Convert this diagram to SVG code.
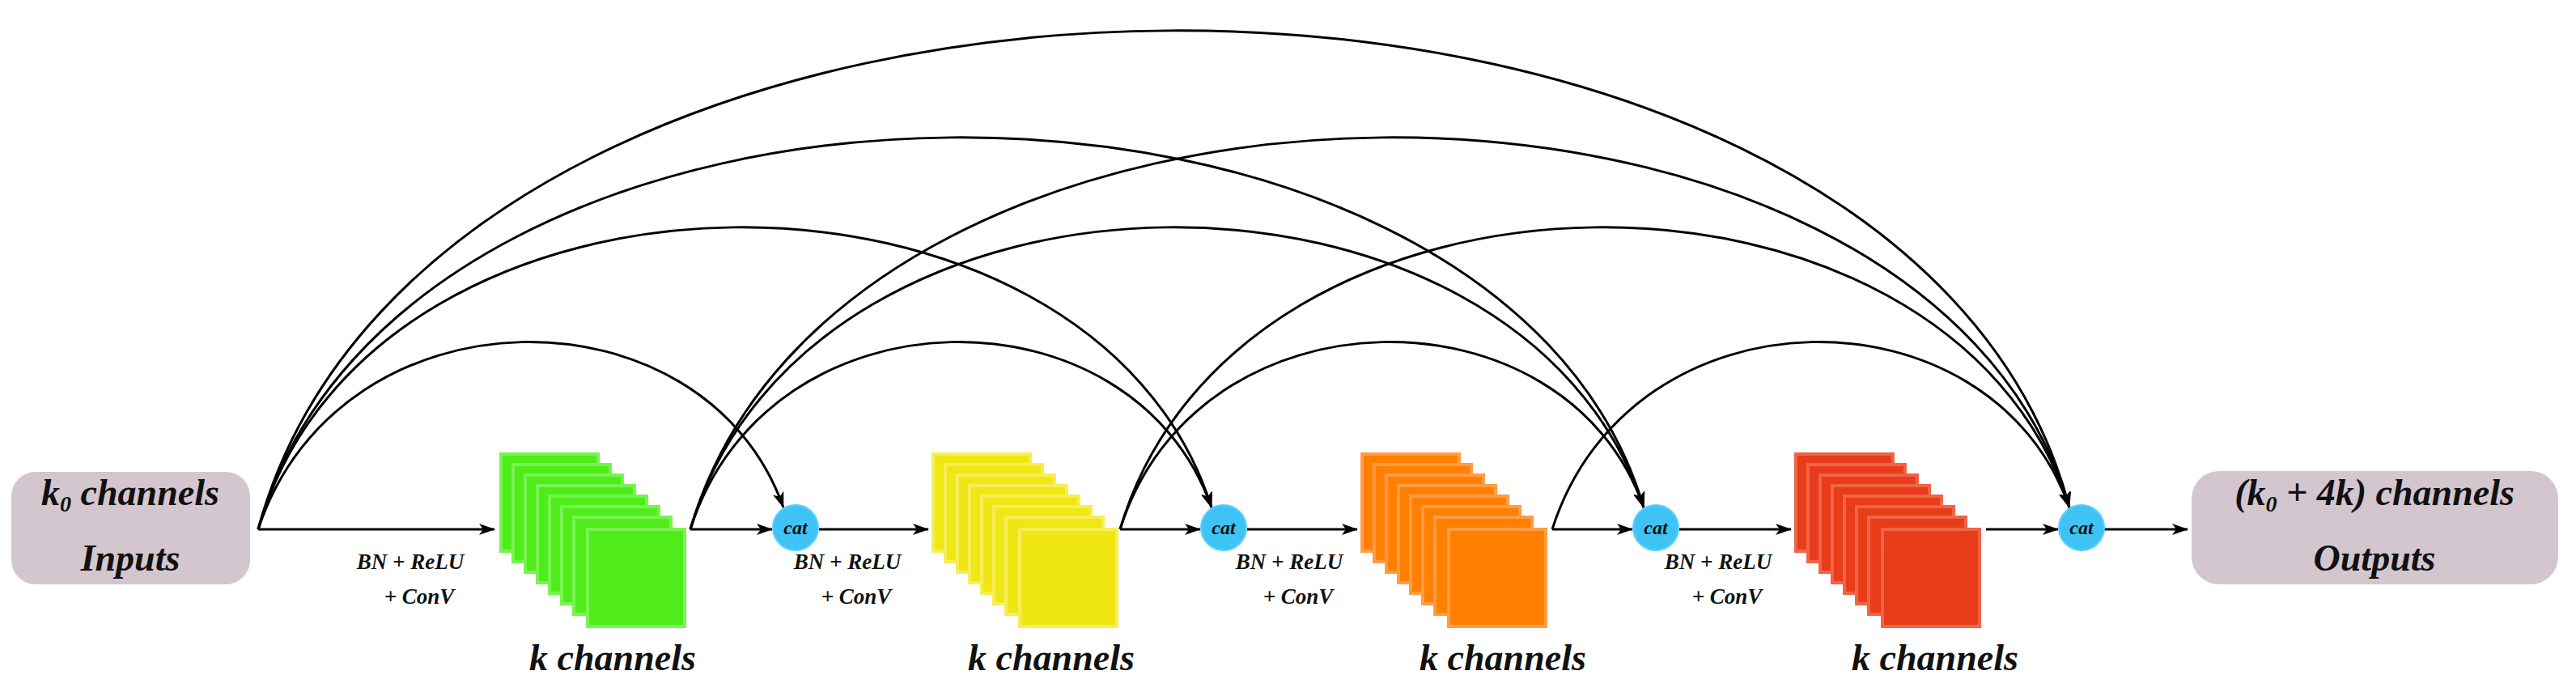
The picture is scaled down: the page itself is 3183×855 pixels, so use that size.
<svg xmlns="http://www.w3.org/2000/svg" width="3183" height="855" viewBox="0 0 3183 855">
<style>
text{font-family:"Liberation Serif","DejaVu Serif",serif;font-style:italic;font-weight:bold;fill:#111;stroke:none;text-anchor:middle}
.box{fill:#d3c6cf}
.big{font-size:46px}
.op{font-size:27px}
.cat{font-size:24px}
.e{fill:none;stroke:#000;stroke-width:3;marker-end:url(#ah)}
.c{fill:#3fc3f5;stroke:#5ad0ff;stroke-width:2}
.g{fill:#4fec1a;stroke:#78f450;stroke-width:4}
.y{fill:#f0e614;stroke:#f6ee55;stroke-width:4}
.o{fill:#ff7f00;stroke:#ff9c45;stroke-width:4}
.r{fill:#e83c1a;stroke:#f06448;stroke-width:4}
</style>
<defs>
<marker id="ah" viewBox="0 0 20 14" refX="19" refY="7" markerWidth="20" markerHeight="14" markerUnits="userSpaceOnUse" orient="auto">
<path d="M0,0 L20,7 L0,14 L5,7 Z" fill="#000" stroke="none"/>
</marker>
<g id="stk">
<rect x="0" y="0" width="120" height="120"/>
<rect x="15" y="13" width="120" height="120"/>
<rect x="30" y="26" width="120" height="120"/>
<rect x="45" y="39" width="120" height="120"/>
<rect x="60" y="52" width="120" height="120"/>
<rect x="75" y="65" width="120" height="120"/>
<rect x="90" y="78" width="120" height="120"/>
<rect x="107" y="93" width="120" height="120"/>
</g>
</defs>
<g id="inputs"><rect class="box" x="14" y="583" width="295" height="139" rx="30"/>
<text class="big" x="161" y="624">k<tspan font-size="28" dy="8">0</tspan><tspan dy="-8"> channels</tspan></text>
<text class="big" x="161" y="705">Inputs</text></g>
<g id="outputs"><rect class="box" x="2708" y="582" width="453" height="140" rx="34"/>
<text class="big" x="2934" y="624">(k<tspan font-size="28" dy="8">0</tspan><tspan dy="-8"> + 4k) channels</tspan></text>
<text class="big" x="2934" y="705">Outputs</text></g>
<g id="stack1"><use class="g" href="#stk" x="619" y="561"/><text class="big" x="757" y="828">k channels</text></g>
<g id="stack2"><use class="y" href="#stk" x="1153" y="561"/><text class="big" x="1299" y="828">k channels</text></g>
<g id="stack3"><use class="o" href="#stk" x="1683" y="561"/><text class="big" x="1857" y="828">k channels</text></g>
<g id="stack4"><use class="r" href="#stk" x="2219" y="561"/><text class="big" x="2391" y="828">k channels</text></g>
<g id="labels">
<text class="op" x="507" y="703">BN + ReLU</text><text class="op" x="518" y="746">+ ConV</text>
<text class="op" x="1047" y="703">BN + ReLU</text><text class="op" x="1058" y="746">+ ConV</text>
<text class="op" x="1593" y="703">BN + ReLU</text><text class="op" x="1604" y="746">+ ConV</text>
<text class="op" x="2123" y="703">BN + ReLU</text><text class="op" x="2134" y="746">+ ConV</text>
</g>
<g id="connectors">
<path class="e" d="M319,654 H611"/>
<path class="e" d="M853,654 H954"/>
<path class="e" d="M1384,654 H1483"/>
<path class="e" d="M1918,654 H2017"/>
<path class="e" d="M2454,654 H2543"/>
<path class="e" d="M2600,654 H2703"/>
<path class="e" d="M1012,654 H1147"/>
<path class="e" d="M1541,654 H1677"/>
<path class="e" d="M2075,654 H2213"/>
<path class="e" d="M319,654 C420,350 870,350 968,627"/>
<path class="e" d="M319,654 C460,161 1350,161 1497,627"/>
<path class="e" d="M319,654 C500,13 1850,13 2031,627"/>
<path class="e" d="M319,654 C540,-163 2350,-163 2557,627"/>
<path class="e" d="M853,654 C950,350 1400,350 1497,627"/>
<path class="e" d="M853,654 C1000,161 1880,161 2031,627"/>
<path class="e" d="M853,654 C1040,13 2380,13 2557,627"/>
<path class="e" d="M1384,654 C1480,350 1935,350 2031,627"/>
<path class="e" d="M1384,654 C1530,161 2410,161 2557,627"/>
<path class="e" d="M1918,654 C2015,350 2460,350 2557,627"/>
</g>
<g id="cat1"><ellipse class="c" cx="983" cy="652" rx="28" ry="28"/><text class="cat" x="983" y="660">cat</text></g>
<g id="cat2"><ellipse class="c" cx="1512" cy="652" rx="28" ry="28"/><text class="cat" x="1512" y="660">cat</text></g>
<g id="cat3"><ellipse class="c" cx="2046" cy="652" rx="28" ry="28"/><text class="cat" x="2046" y="660">cat</text></g>
<g id="cat4"><ellipse class="c" cx="2572" cy="652" rx="28" ry="28"/><text class="cat" x="2572" y="660">cat</text></g>
</svg>
